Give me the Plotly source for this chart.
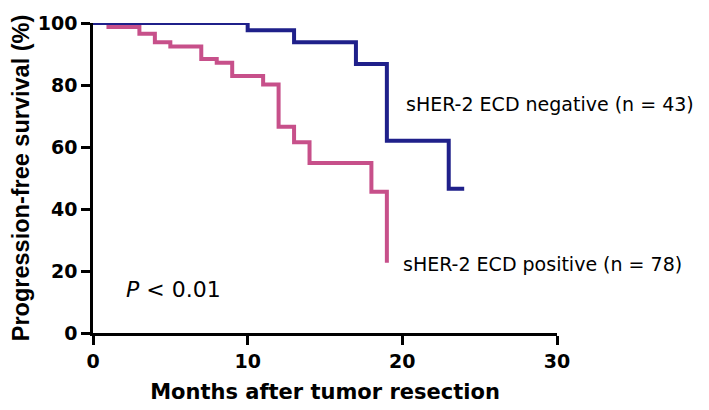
import plotly.graph_objects as go

# Kaplan-Meier step data (months, % progression-free)
neg_months = [0, 10, 13, 17, 19, 23, 24]
neg_surv = [100, 97.7, 93.8, 86.8, 62.0, 46.5, 46.5]

pos_months = [0, 1, 3, 4, 5, 7, 8, 9, 11, 12, 13, 14, 18, 19]
pos_surv = [100, 98.7, 96.5, 93.8, 92.4, 88.4, 87.2, 82.9, 80.2, 66.5, 61.5, 54.8, 45.6, 22.7]

neg_label = "sHER-2 ECD negative (n = 43)"
pos_label = "sHER-2 ECD positive (n = 78)"
p_text = "<i>P</i> < 0.01"

x_ticks = [0, 10, 20, 30]
y_ticks = [0, 20, 40, 60, 80, 100]

FONT = "DejaVu Sans, sans-serif"
YFONT = "Liberation Sans, Arial, sans-serif"

fig = go.Figure()
fig.add_trace(go.Scatter(x=pos_months, y=pos_surv, mode="lines",
                         line=dict(shape="hv", color="#C7508A", width=4),
                         showlegend=False, cliponaxis=False))
fig.add_trace(go.Scatter(x=neg_months, y=neg_surv, mode="lines",
                         line=dict(shape="hv", color="#1F208A", width=4),
                         showlegend=False, cliponaxis=False))

fig.add_annotation(x=20.1, y=73.9, xref="x", yref="y", text=neg_label, showarrow=False,
                   xanchor="left", yanchor="middle", font=dict(family=FONT, size=19, color="black"))
fig.add_annotation(x=19.9, y=22.3, xref="x", yref="y", text=pos_label, showarrow=False,
                   xanchor="left", yanchor="middle", font=dict(family=FONT, size=19, color="black"))
fig.add_annotation(x=2.0, y=13.9, xref="x", yref="y", text=p_text, showarrow=False,
                   xanchor="left", yanchor="middle", font=dict(family=FONT, size=22, color="black"))

# page body has an 8px default margin, so the figure is sized/offset to compensate
fig.update_layout(
    width=701, height=402,
    margin=dict(l=85, r=152, t=15, b=77),
    plot_bgcolor="white", paper_bgcolor="white",
    font=dict(family=FONT, color="black"),
)
fig.update_xaxes(range=[0, 30], tickvals=x_ticks, showgrid=False, zeroline=False,
                 automargin=False,
                 showline=True, linecolor="black", linewidth=2.5,
                 ticks="outside", ticklen=9, tickwidth=2.5, tickcolor="black",
                 tickfont=dict(family=FONT, size=19, weight="bold"),
                 title=dict(text="Months after tumor resection", standoff=14,
                            font=dict(family=FONT, size=21, weight="bold")))
fig.update_yaxes(range=[0, 100], tickvals=y_ticks, showgrid=False, zeroline=False,
                 automargin=False,
                 showline=True, linecolor="black", linewidth=2.5,
                 ticks="outside", ticklen=9, tickwidth=2.5, tickcolor="black",
                 tickfont=dict(family=FONT, size=19, weight="bold"),
                 title=dict(text="Progression-free survival (%)", standoff=6,
                            font=dict(family=YFONT, size=23.5, weight="bold")))

fig.write_html("out.html")
